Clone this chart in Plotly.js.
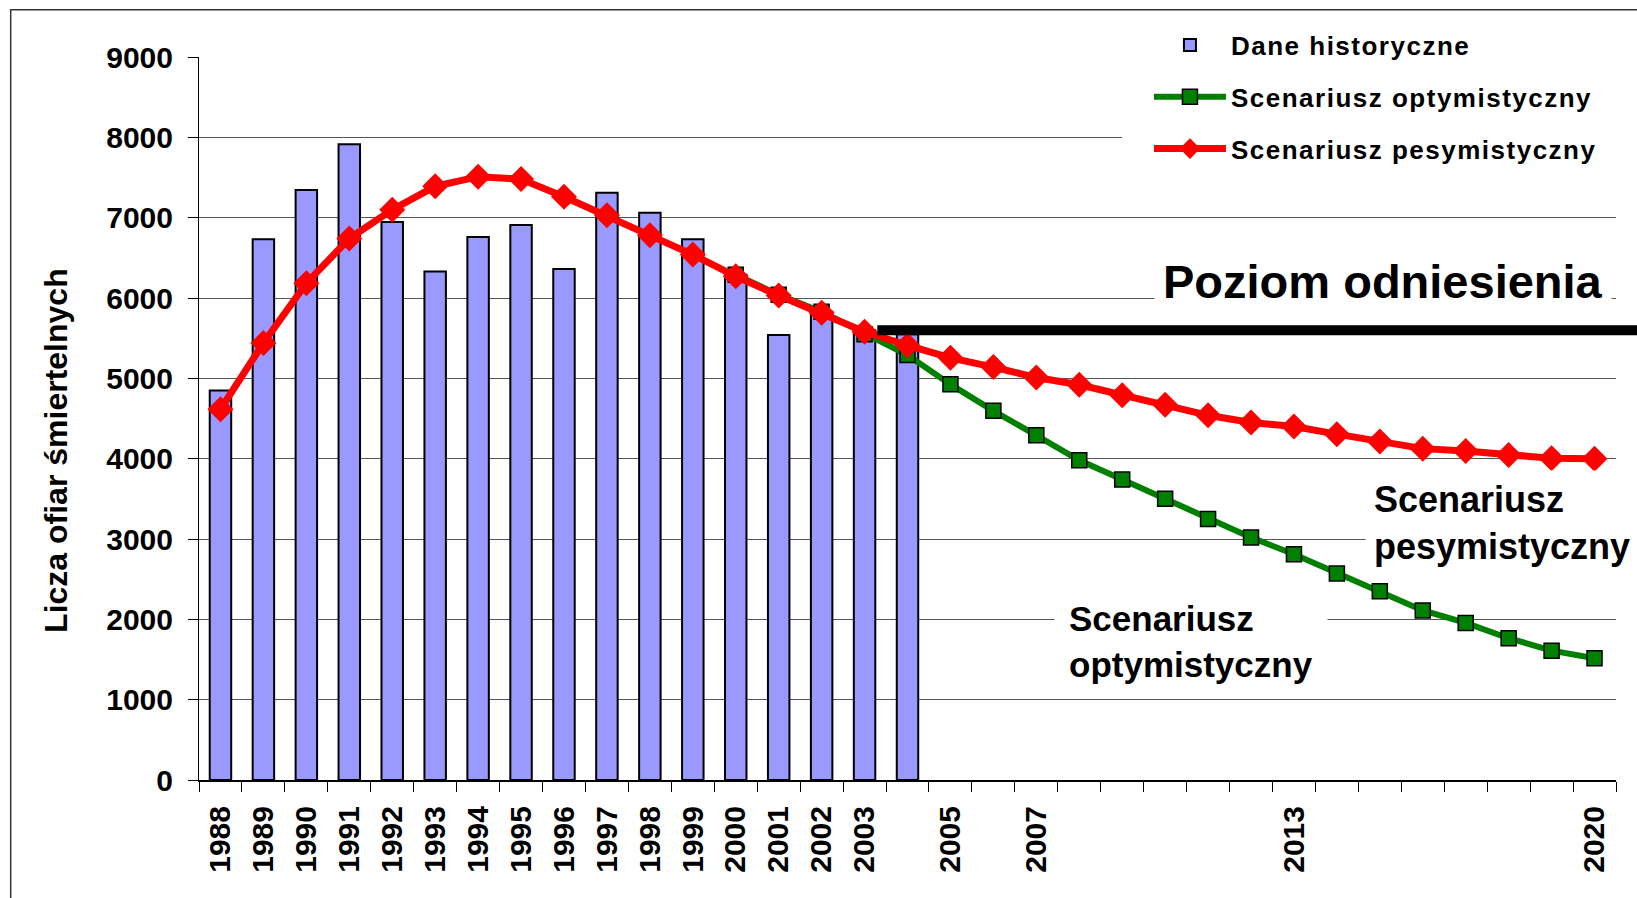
<!DOCTYPE html>
<html>
<head>
<meta charset="utf-8">
<script src="https://cdn.plot.ly/plotly-3.0.1.min.js"></script>
<style>
  html, body { margin: 0; padding: 0; background: #ffffff; }
  #chart { width: 1637px; height: 898px; }
  #chart .legendtext { letter-spacing: 1.5px; }
  #chart .legend .scrollbox, #chart .legend .groups { clip-path: none !important; }
</style>
</head>
<body>
<div id="chart"></div>
<script>
// ---------- data ----------
const years = ['1988','1989','1990','1991','1992','1993','1994','1995','1996','1997','1998',
  '1999','2000','2001','2002','2003','2004','2005','2006','2007','2008','2009','2010',
  '2011','2012','2013','2014','2015','2016','2017','2018','2019','2020'];

const tickLabels = ['1988','1989','1990','1991','1992','1993','1994','1995','1996','1997','1998',
  '1999','2000','2001','2002','2003','','2005','','2007','','','','','','2013','','','','','','','2020'];

const historicalYears = ['1988','1989','1990','1991','1992','1993','1994','1995','1996','1997','1998',
  '1999','2000','2001','2002','2003','2004'];
const historical = [4850, 6730, 7345, 7915, 6945, 6330, 6760, 6910, 6360, 7310, 7060,
  6730, 6290, 5540, 5830, 5600, 5550];

const optimisticYears = ['2000','2001','2002','2003','2004','2005','2006','2007','2008','2009','2010',
  '2011','2012','2013','2014','2015','2016','2017','2018','2019','2020'];
const optimistic = [6290, 6040, 5830, 5550, 5290, 4925, 4595, 4290, 3980, 3740, 3500,
  3250, 3020, 2810, 2570, 2350, 2110, 1955, 1765, 1610, 1515];

const pessimistic = [4615, 5440, 6185, 6740, 7100, 7390, 7510, 7480, 7260, 7030, 6780,
  6540, 6270, 6030, 5815, 5580, 5410, 5255, 5140, 5010, 4920, 4790, 4670, 4540, 4450,
  4400, 4305, 4215, 4125, 4095, 4045, 4005, 4000];

const referenceLevel = 5600;

const seriesNames = ['Dane historyczne', 'Scenariusz optymistyczny', 'Scenariusz pesymistyczny'];
const yAxisTitle = 'Licza ofiar śmiertelnych';
const referenceLabel = 'Poziom odniesienia';
const optLabel = 'Scenariusz<br>optymistyczny';
const pesLabel = 'Scenariusz<br>pesymistyczny';

// ---------- chart ----------
const FONT = 'Liberation Sans, Arial, sans-serif';

const traces = [
  {
    type: 'bar', name: seriesNames[0], x: historicalYears, y: historical,
    legendgroup: 'g1',
    marker: { color: '#9999FF', line: { color: '#000000', width: 2 } },
    hoverinfo: 'x+y'
  },
  {
    type: 'scatter', mode: 'lines+markers', name: seriesNames[1], x: optimisticYears, y: optimistic,
    legendgroup: 'g2',
    line: { color: '#008000', width: 6 },
    marker: { symbol: 'square', size: 15, color: '#008000', line: { color: '#000000', width: 1.5 } }
  },
  {
    type: 'scatter', mode: 'lines+markers', name: seriesNames[2], x: years, y: pessimistic,
    legendgroup: 'g3',
    line: { color: '#FF0000', width: 7 },
    marker: { symbol: 'diamond', size: 20, color: '#FF0000' }
  }
];

const layout = {
  width: 1637, height: 898,
  margin: { l: 199, r: 21, t: 57, b: 118, pad: 0 },
  paper_bgcolor: '#ffffff',
  plot_bgcolor: '#ffffff',
  font: { family: FONT, color: '#000000' },
  bargap: 0.5,
  showlegend: true,
  legend: {
    x: 0.6704, xanchor: 'left', y: 1.049, yanchor: 'top',
    bgcolor: 'rgba(0,0,0,0)', borderwidth: 0,
    font: { family: FONT, size: 26, weight: 'bold', color: '#000000' },
    itemwidth: 72, traceorder: 'grouped', tracegroupgap: 15
  },
  xaxis: {
    type: 'category', categoryorder: 'array', categoryarray: years,
    range: [-0.5, years.length - 0.5],
    tickmode: 'array', tickvals: years, ticktext: tickLabels,
    tickangle: -90, tickson: 'boundaries',
    ticks: 'outside', ticklen: 10, tickwidth: 1, tickcolor: '#000000',
    ticklabelstandoff: 12,
    tickfont: { family: FONT, size: 30, weight: 'bold', color: '#000000' },
    showline: true, linecolor: '#000000', linewidth: 2,
    showgrid: false, zeroline: false, fixedrange: true
  },
  yaxis: {
    range: [0, 9000], dtick: 1000, tick0: 0,
    ticks: 'outside', ticklen: 10, tickwidth: 1, tickcolor: '#000000',
    ticklabelstandoff: 9,
    tickfont: { family: FONT, size: 30, weight: 'bold', color: '#000000' },
    showline: true, linecolor: '#000000', linewidth: 1,
    showgrid: true, gridcolor: '#555555', gridwidth: 1,
    zeroline: false, fixedrange: true
  },
  shapes: [
    // outer frame
    { type: 'rect', xref: 'paper', yref: 'paper', x0: -0.1329, x1: 1.03, y0: -0.17, y1: 1.0654,
      line: { color: '#333333', width: 1.5 }, fillcolor: 'rgba(0,0,0,0)', layer: 'above' },
    // white area behind legend
    { type: 'rect', xref: 'paper', yref: 'paper', x0: 0.6514, x1: 1.03, y0: 0.84, y1: 1.05,
      line: { width: 0 }, fillcolor: '#ffffff', layer: 'above' },
    // reference level line
    { type: 'line', xref: 'paper', yref: 'y', x0: 0.4787, x1: 1.03, y0: referenceLevel, y1: referenceLevel,
      line: { color: '#000000', width: 10 }, layer: 'above' }
  ],
  annotations: [
    { text: yAxisTitle, xref: 'paper', yref: 'paper', x: -0.1005, y: 0.456, textangle: -90,
      showarrow: false, xanchor: 'center', yanchor: 'middle',
      font: { family: FONT, size: 32, weight: 'bold', color: '#000000' } },
    { text: referenceLabel, xref: 'paper', yref: 'paper', x: 0.8356, y: 0.6888,
      showarrow: false, xanchor: 'center', yanchor: 'middle', bgcolor: '#ffffff', borderpad: 8,
      font: { family: FONT, size: 47, weight: 'bold', color: '#000000' } },
    { text: pesLabel, xref: 'paper', yref: 'paper', x: 0.8229, y: 0.3548, align: 'left',
      showarrow: false, xanchor: 'left', yanchor: 'middle', bgcolor: '#ffffff', borderpad: 8,
      font: { family: FONT, size: 36, weight: 'bold', color: '#000000' } },
    { text: optLabel, xref: 'paper', yref: 'paper', x: 0.6034, y: 0.1916, align: 'left',
      showarrow: false, xanchor: 'left', yanchor: 'middle', bgcolor: '#ffffff', borderpad: 14,
      font: { family: FONT, size: 35, weight: 'bold', color: '#000000' } }
  ]
};

Plotly.newPlot('chart', traces, layout, { displayModeBar: false, staticPlot: true });
</script>
</body>
</html>
